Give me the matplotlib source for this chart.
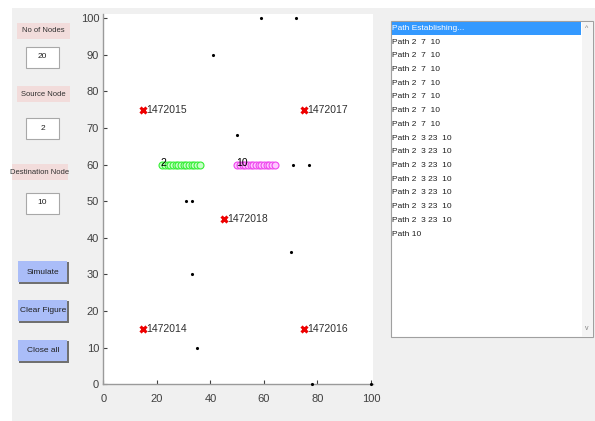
import matplotlib
matplotlib.use("Agg")
import matplotlib.pyplot as plt
from matplotlib.patches import Rectangle
from matplotlib import font_manager

W, H = 595, 421

# sensor nodes (black dots)
node_x = [59, 72, 41, 50, 71, 77, 31, 33, 70, 33, 35, 78, 100]
node_y = [100, 100, 90, 68, 60, 60, 50, 50, 36, 30, 10, 0, 0]

# base stations (red crosses)
tower_x = [15, 75, 45, 15, 75]
tower_y = [75, 75, 45, 15, 15]
tower_ids = ["1472015", "1472017", "1472018", "1472014", "1472016"]

# source / destination and their trails
src_label = "2"
src_x, src_y = 22, 60
dst_label = "10"
dst_x, dst_y = 50, 60
src_trail_x = [22, 23, 24, 25, 26, 27, 28, 29, 30, 31, 32, 33, 34, 35, 36]
dst_trail_x = [50, 51, 52, 53, 54, 55, 56, 57, 58, 59, 60, 61, 62, 63, 64]
trail_y = [60] * 15

x_ticks = [0, 20, 40, 60, 80, 100]
y_ticks = [0, 10, 20, 30, 40, 50, 60, 70, 80, 90, 100]

# gui values
num_nodes = "20"
source_node = "2"
dest_node = "10"
log_lines = ["Path Establishing..."] + ["Path 2  7  10"] * 7 + ["Path 2  3 23  10"] * 7 + ["Path 10"]

names = {f.name for f in font_manager.fontManager.ttflist}
FONT = "Liberation Sans Narrow" if "Liberation Sans Narrow" in names else "Liberation Sans"
plt.rcParams["font.family"] = FONT

fig = plt.figure(figsize=(W / 100, H / 100), dpi=100)
fig.patch.set_facecolor("white")

# background "window" in pixel coordinates
bg = fig.add_axes([0, 0, 1, 1])
bg.set_xlim(0, W)
bg.set_ylim(H, 0)
bg.axis("off")
bg.add_patch(Rectangle((12, 8), W - 12, H - 8, fc="#f0f0f0", ec="none"))


def label_box(cx, cy, w, text):
    bg.add_patch(Rectangle((cx - w / 2, cy - 8), w, 16, fc="#f2dcdb", ec="none"))
    bg.text(cx, cy, text, ha="center", va="center", fontsize=5.5, color="#303030")


def edit_box(cx, cy, text):
    bg.add_patch(Rectangle((cx - 16.5, cy - 10.5), 33, 21, fc="white", ec="#a8a8a8", lw=0.8))
    bg.text(cx, cy, text, ha="center", va="center", fontsize=6, color="#202020")


def button(cx, cy, text):
    bg.add_patch(Rectangle((cx - 24.5, cy - 10.5), 50, 22, fc="#707070", ec="none"))
    bg.add_patch(Rectangle((cx - 25, cy - 11), 49, 21, fc="#aabdf8", ec="none"))
    bg.text(cx, cy, text, ha="center", va="center", fontsize=6, color="#202020")


label_box(43.5, 31, 53, "No of Nodes")
edit_box(42.5, 57, num_nodes)
label_box(43.5, 94, 53, "Source Node")
edit_box(42.5, 128, source_node)
label_box(40, 172, 56, "Destination Node")
edit_box(42.5, 203, dest_node)
button(43, 272, "Simulate")
button(43, 311, "Clear Figure")
button(43, 351, "Close all")

# list box
bg.add_patch(Rectangle((391, 21), 202, 316, fc="white", ec="#a0a0a0", lw=0.8))
bg.add_patch(Rectangle((582, 21.5), 10.5, 315, fc="#f4f4f4", ec="none"))
bg.add_patch(Rectangle((392, 22), 189, 13, fc="#3399ff", ec="none"))
bg.text(587, 29, "^", ha="center", va="center", fontsize=5, color="#808080")
bg.text(587, 328, "v", ha="center", va="center", fontsize=5, color="#808080")
for i, line in enumerate(log_lines):
    bg.text(392.5, 28.5 + 13.7 * i, line, ha="left", va="center", fontsize=6,
            color="white" if i == 0 else "#202020")

# plot area
ax = fig.add_axes([103.3 / W, 1 - 384.3 / H, (373 - 103.3) / W, (384.3 - 14) / H])
ax.set_zorder(2)
ax.set_xlim(0, 100.75)
ax.set_ylim(0, 101.1)
for side in ["top", "right"]:
    ax.spines[side].set_visible(False)
for side in ["left", "bottom"]:
    ax.spines[side].set_color("#9a9a9a")
    ax.spines[side].set_linewidth(1.0)
ax.set_xticks(x_ticks)
ax.set_yticks(y_ticks)
ax.tick_params(direction="in", length=3, width=0.8, color="#404040",
               labelsize=8, labelcolor="#404040")
ax.tick_params(axis="x", pad=7)
ax.tick_params(axis="y", pad=3)

ax.plot(node_x, node_y, ".", color="black", markersize=2.5, clip_on=False, zorder=3)

ax.plot(src_trail_x, trail_y, "o", mfc="#c8ffc8", mec="#33ee33", markersize=5, mew=0.8, zorder=3)
ax.plot(dst_trail_x, trail_y, "o", mfc="#ffc8ff", mec="#ee44ee", markersize=5, mew=0.8, zorder=3)
ax.text(src_x - 0.5, src_y + 0.5, src_label, fontsize=7.5, color="black", va="center", zorder=4)
ax.text(dst_x - 0.5, dst_y + 0.5, dst_label, fontsize=7.5, color="black", va="center", zorder=4)

ax.plot(tower_x, tower_y, "x", color="#ee0000", markersize=4, mew=2.2, zorder=4)
for tx, ty, tid in zip(tower_x, tower_y, tower_ids):
    ax.text(tx + 1.2, ty, tid, fontsize=7.5, color="#303030", va="center", zorder=4)

fig.savefig("out.png", dpi=100)
